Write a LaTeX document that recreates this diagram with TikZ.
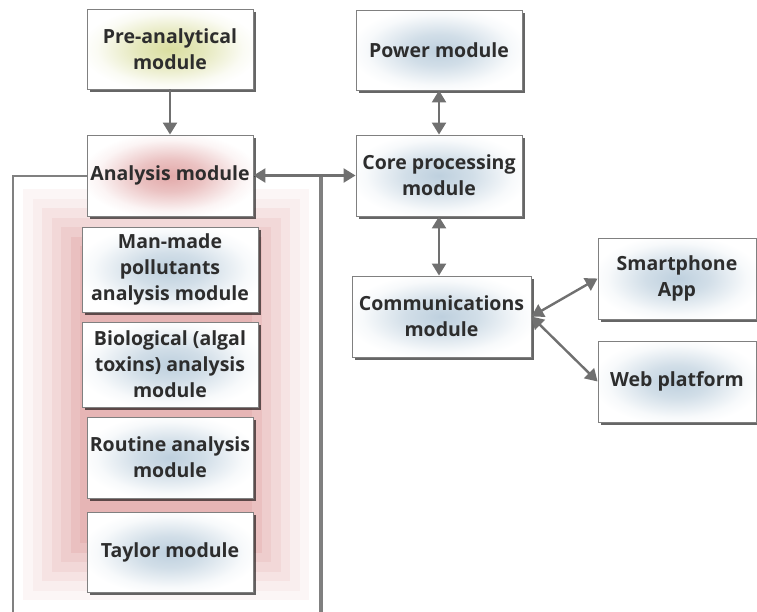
\documentclass[tikz,border=0pt]{standalone}
\usepackage{fontspec}
\setmainfont{Open Sans}
\usetikzlibrary{arrows.meta,shadows}
\definecolor{bc}{RGB}{190,208,222}
\definecolor{yc}{RGB}{218,222,160}
\definecolor{rc}{RGB}{226,168,168}
\definecolor{txt}{RGB}{45,45,45}
\definecolor{edge}{RGB}{128,128,128}
\definecolor{arr}{RGB}{112,112,112}
\pgfdeclareradialshading{bshade}{\pgfpoint{0bp}{0bp}}{color(0bp)=(bc); color(10bp)=(bc!70!white); color(22bp)=(bc!12!white); color(27bp)=(white); color(50bp)=(white)}
\pgfdeclareradialshading{yshade}{\pgfpoint{0bp}{0bp}}{color(0bp)=(yc); color(10bp)=(yc!70!white); color(22bp)=(yc!12!white); color(27bp)=(white); color(50bp)=(white)}
\pgfdeclareradialshading{rshade}{\pgfpoint{0bp}{0bp}}{color(0bp)=(rc); color(10bp)=(rc!70!white); color(22bp)=(rc!12!white); color(27bp)=(white); color(50bp)=(white)}
\tikzset{
  box/.style={draw=edge, line width=0.9pt, shading=bshade, align=center,
    font=\fontsize{19.5}{26}\selectfont\bfseries, text=txt, inner sep=2pt,
    drop shadow={shadow xshift=2.5pt, shadow yshift=-3pt, fill=black, opacity=0.6}},
  conn/.style={draw=arr, line width=2.4pt},
  one/.style={conn, -{Triangle[length=12pt,width=14pt]}},
  two/.style={conn, {Triangle[length=12pt,width=14pt]}-{Triangle[length=12pt,width=14pt]}}
}
\begin{document}
\begin{tikzpicture}[x=1pt,y=-1pt]
\useasboundingbox (0,0) rectangle (757,611);
% container
\draw[draw=edge, line width=1.4pt, fill=white,
  drop shadow={shadow xshift=2.5pt, shadow yshift=0pt, fill=black, opacity=0.5}]
  (13,176) rectangle (320,640);
\foreach \i/\p in {0/10,1/20,2/32,3/45,4/58,5/72,6/85}{
  \fill[rc!\p!white] (23+9.5*\i,189+9.5*\i) rectangle (309-9.5*\i,600-9.5*\i);
}
% nodes
\node[box, shading=yshade, minimum width=166pt, minimum height=80pt] (pre) at (170,49) {Pre-analytical\\module};
\node[box, shading=rshade, minimum width=166pt, minimum height=81pt] (ana) at (170,175.5) {Analysis module};
\node[box, minimum width=176pt, minimum height=85pt] (man) at (170,269.5) {Man-made\\pollutants\\analysis module};
\node[box, minimum width=176pt, minimum height=85pt] (bio) at (170,364.5) {Biological (algal\\toxins) analysis\\module};
\node[box, minimum width=166pt, minimum height=81pt] (rout) at (170,457.5) {Routine analysis\\module};
\node[box, minimum width=166pt, minimum height=80pt] (tay) at (170,552) {Taylor module};
\node[box, minimum width=166pt, minimum height=80pt] (pow) at (439,50) {Power module};
\node[box, minimum width=166pt, minimum height=81pt] (core) at (439,175.5) {Core processing\\module};
\node[box, minimum width=179pt, minimum height=81pt] (comm) at (441.5,316.5) {Communications\\module};
\node[box, minimum width=158pt, minimum height=81pt] (smart) at (677,278.5) {Smartphone\\App};
\node[box, minimum width=158pt, minimum height=81pt] (web) at (677,381.5) {Web platform};
% connectors
\draw[one] (pre) -- (ana);
\draw[two] (ana.east) -- (core.west);
\draw[two] (pow.south) -- (core.north);
\draw[two] (core.south) -- (core.south |- comm.north);
\draw[two] (comm.east) -- (smart.west);
\draw[two] (comm.east) -- (web.west);
\end{tikzpicture}
\end{document}
